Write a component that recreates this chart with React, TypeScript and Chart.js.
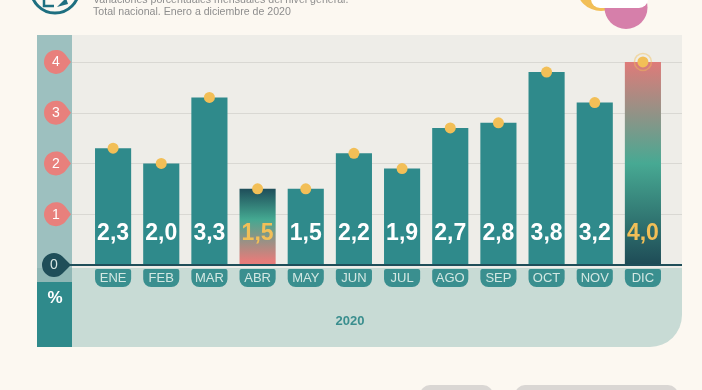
import React, { useEffect, useRef } from "react";
import { Chart, registerables } from "chart.js";

Chart.register(...registerables);

const months = ["ENE", "FEB", "MAR", "ABR", "MAY", "JUN", "JUL", "AGO", "SEP", "OCT", "NOV", "DIC"];
const values = [2.3, 2.0, 3.3, 1.5, 1.5, 2.2, 1.9, 2.7, 2.8, 3.8, 3.2, 4.0];
const yTicks = [0, 1, 2, 3, 4];
const highlighted = ["ABR", "DIC"];
const yearLabel = "2020";
const unitLabel = "%";
const titleLines = [
  "Variaciones porcentuales mensuales del nivel general.",
  "Total nacional. Enero a diciembre de 2020",
];

const C = {
  page: "#FCF8F1",
  plot: "#EEEDE8",
  grid: "#D9D8D3",
  leftTop: "#9DC0BF",
  leftBand: "#8FB7B5",
  leftDark: "#2F8A8B",
  bottom: "#C8DBD5",
  bar: "#2F8A8B",
  pill: "#3A8F8F",
  pillText: "#D3E8E3",
  dark: "#1F4E59",
  pink: "#E8807C",
  yellow: "#F2BF57",
  title: "#8E8E8E",
  logo: "#1E6F80",
};

const FONT = "'Liberation Sans', Arial, Helvetica, sans-serif";

function roundRect(ctx: CanvasRenderingContext2D, x: number, y: number, w: number, h: number, r: [number, number, number, number]) {
  const [tl, tr, br, bl] = r;
  ctx.beginPath();
  ctx.moveTo(x + tl, y);
  ctx.lineTo(x + w - tr, y);
  ctx.arcTo(x + w, y, x + w, y + tr, tr);
  ctx.lineTo(x + w, y + h - br);
  ctx.arcTo(x + w, y + h, x + w - br, y + h, br);
  ctx.lineTo(x + bl, y + h);
  ctx.arcTo(x, y + h, x, y + h - bl, bl);
  ctx.lineTo(x, y + tl);
  ctx.arcTo(x, y, x + tl, y, tl);
  ctx.closePath();
}

function teardrop(ctx: CanvasRenderingContext2D, cx: number, cy: number, r: number, tipX: number) {
  const a = Math.acos(r / (tipX - cx));
  ctx.beginPath();
  ctx.moveTo(tipX, cy);
  ctx.lineTo(cx + r * Math.cos(-a), cy + r * Math.sin(-a));
  ctx.arc(cx, cy, r, -a, a, true);
  ctx.closePath();
}

const decorPlugin = {
  id: "decor",
  beforeDraw(chart: any) {
    const ctx: CanvasRenderingContext2D = chart.ctx;
    const y = chart.scales.y;
    const W = chart.width;
    const H = chart.height;
    const panelL = 37, panelR = 682, panelT = 35, panelB = 347, colR = 72;
    const base = y.getPixelForValue(0);
    ctx.save();
    ctx.fillStyle = C.page;
    ctx.fillRect(0, 0, W, H);

    // logo
    ctx.strokeStyle = C.logo;
    ctx.lineWidth = 3;
    ctx.beginPath();
    ctx.arc(55, -11, 24, 0, Math.PI * 2);
    ctx.stroke();
    ctx.lineWidth = 2.5;
    ctx.beginPath();
    ctx.moveTo(44, -2);
    ctx.lineTo(44, 6);
    ctx.lineTo(54, 6);
    ctx.stroke();
    ctx.beginPath();
    ctx.moveTo(57, 7);
    ctx.lineTo(66, -2);
    ctx.lineTo(68, 4);
    ctx.closePath();
    ctx.fillStyle = C.logo;
    ctx.fill();

    // title
    ctx.fillStyle = C.title;
    ctx.font = `10.6px ${FONT}`;
    ctx.textAlign = "left";
    ctx.textBaseline = "alphabetic";
    ctx.fillText(titleLines[0], 93, 2.5);
    ctx.fillText(titleLines[1], 93, 14.5);

    // top-right decoration
    ctx.fillStyle = C.yellow;
    ctx.beginPath();
    ctx.arc(601, -14, 25, 0, Math.PI * 2);
    ctx.fill();
    ctx.fillStyle = "#D67FAA";
    ctx.beginPath();
    ctx.arc(626, 7.5, 21.5, 0, Math.PI * 2);
    ctx.fill();
    ctx.fillStyle = "#FFFFFF";
    roundRect(ctx, 591, -12, 57, 20, [9, 9, 9, 9]);
    ctx.fill();

    // bottom pills
    ctx.fillStyle = "#DAD7D4";
    roundRect(ctx, 420, 385, 73, 20, [10, 10, 10, 10]);
    ctx.fill();
    roundRect(ctx, 515, 385, 163, 20, [10, 10, 10, 10]);
    ctx.fill();

    // bottom region
    ctx.fillStyle = C.bottom;
    roundRect(ctx, panelL, panelT, panelR - panelL, panelB - panelT, [0, 0, 32, 0]);
    ctx.fill();
    // plot area
    ctx.fillStyle = C.plot;
    ctx.fillRect(colR, panelT, panelR - colR, base + 3 - panelT);
    // left column
    ctx.fillStyle = C.leftTop;
    ctx.fillRect(panelL, panelT, colR - panelL, base + 3 - panelT);
    ctx.fillStyle = C.leftBand;
    ctx.fillRect(panelL, base + 3, colR - panelL, 14);
    ctx.fillStyle = C.leftDark;
    ctx.fillRect(panelL, base + 17, colR - panelL, panelB - base - 17);
    ctx.fillStyle = "#FFFFFF";
    ctx.font = `bold 17px ${FONT}`;
    ctx.textAlign = "center";
    ctx.textBaseline = "middle";
    ctx.fillText(unitLabel, 55, 298);

    // gridlines
    ctx.strokeStyle = C.grid;
    ctx.lineWidth = 1;
    yTicks.forEach((t) => {
      if (t === 0) return;
      const py = Math.round(y.getPixelForValue(t)) + 0.5;
      ctx.beginPath();
      ctx.moveTo(colR, py);
      ctx.lineTo(panelR, py);
      ctx.stroke();
    });

    // year label
    ctx.fillStyle = "#3A8E8E";
    ctx.font = `bold 13px ${FONT}`;
    ctx.fillText(yearLabel, 350, 321);
    ctx.restore();
  },
  afterDatasetsDraw(chart: any) {
    const ctx: CanvasRenderingContext2D = chart.ctx;
    const x = chart.scales.x;
    const y = chart.scales.y;
    const base = y.getPixelForValue(0);
    const meta = chart.getDatasetMeta(1);
    ctx.save();

    // baseline
    ctx.strokeStyle = C.dark;
    ctx.lineWidth = 2;
    ctx.beginPath();
    ctx.moveTo(60, base);
    ctx.lineTo(682, base);
    ctx.stroke();

    // category pills and value labels
    months.forEach((m, i) => {
      const el = meta.data[i];
      const cx = x.getPixelForValue(i);
      const w = el ? el.width : 36;
      ctx.fillStyle = C.pill;
      roundRect(ctx, cx - w / 2, base + 4, w, 18, [2, 2, 8, 8]);
      ctx.fill();
      ctx.fillStyle = C.pillText;
      ctx.font = `13px ${FONT}`;
      ctx.textAlign = "center";
      ctx.textBaseline = "middle";
      ctx.fillText(m, cx, base + 13.5);

      ctx.fillStyle = highlighted.includes(m) ? C.yellow : "#FFFFFF";
      ctx.font = `bold 23px ${FONT}`;
      ctx.fillText(values[i].toFixed(1).replace(".", ","), cx, base - 31);
    });

    // y tick markers
    yTicks.forEach((t) => {
      const py = y.getPixelForValue(t);
      const cx = t === 0 ? 54 : 56;
      ctx.fillStyle = t === 0 ? C.dark : C.pink;
      teardrop(ctx, cx, py, 12, 71);
      ctx.fill();
      ctx.fillStyle = t === 0 ? "#D7E6E3" : "#FFFFFF";
      ctx.font = `14px ${FONT}`;
      ctx.textAlign = "center";
      ctx.textBaseline = "middle";
      ctx.fillText(String(t), cx, py + 0.5);
    });

    // halo on last point
    const last = values.length - 1;
    const px = x.getPixelForValue(last);
    const py = y.getPixelForValue(values[last]);
    ctx.strokeStyle = "rgba(242,191,87,0.45)";
    ctx.lineWidth = 1.5;
    ctx.beginPath();
    ctx.arc(px, py, 8.5, 0, Math.PI * 2);
    ctx.stroke();
    ctx.restore();
  },
};

export default function App() {
  const ref = useRef<HTMLCanvasElement | null>(null);
  useEffect(() => {
    if (!ref.current) return;
    const chart = new Chart(ref.current, {
      type: "bar",
      data: {
        labels: months,
        datasets: [
          {
            type: "line",
            data: values,
            showLine: false,
            pointRadius: 5.5,
            pointHoverRadius: 5.5,
            pointBackgroundColor: C.yellow,
            pointBorderWidth: 0,
            borderColor: C.yellow,
            order: 1,
          } as any,
          {
            type: "bar",
            data: values,
            barPercentage: 0.75,
            categoryPercentage: 1,
            order: 2,
            backgroundColor: (c: any) => {
              const i = c.dataIndex;
              const chart = c.chart;
              const ys = chart.scales && chart.scales.y;
              if (!ys || !highlighted.includes(months[i])) return C.bar;
              const top = ys.getPixelForValue(values[i]);
              const bot = ys.getPixelForValue(0);
              if (!isFinite(top) || !isFinite(bot)) return C.bar;
              const g = chart.ctx.createLinearGradient(0, top, 0, bot);
              if (months[i] === "ABR") {
                g.addColorStop(0, "#1F4E5A");
                g.addColorStop(0.4, "#44A891");
                g.addColorStop(0.95, "#E67C7A");
                g.addColorStop(1, "#E67C7A");
              } else {
                g.addColorStop(0, "#DF7B79");
                g.addColorStop(0.5, "#47A993");
                g.addColorStop(1, "#1E4B56");
              }
              return g;
            },
          } as any,
        ],
      },
      options: {
        responsive: false,
        animation: false,
        devicePixelRatio: 1,
        layout: { padding: { left: 89, right: 35, top: 35, bottom: 125 } },
        plugins: { legend: { display: false }, tooltip: { enabled: false } },
        events: [],
        scales: {
          x: { type: "category", display: false, offset: true, grid: { display: false } },
          y: { display: false, min: 0, max: 4.53 },
        },
      },
      plugins: [decorPlugin],
    });
    return () => chart.destroy();
  }, []);
  return (
    <div style={{ position: "fixed", left: 0, top: 0, width: 702, height: 390 }}>
      <canvas ref={ref} width={702} height={390} style={{ display: "block" }} />
    </div>
  );
}
